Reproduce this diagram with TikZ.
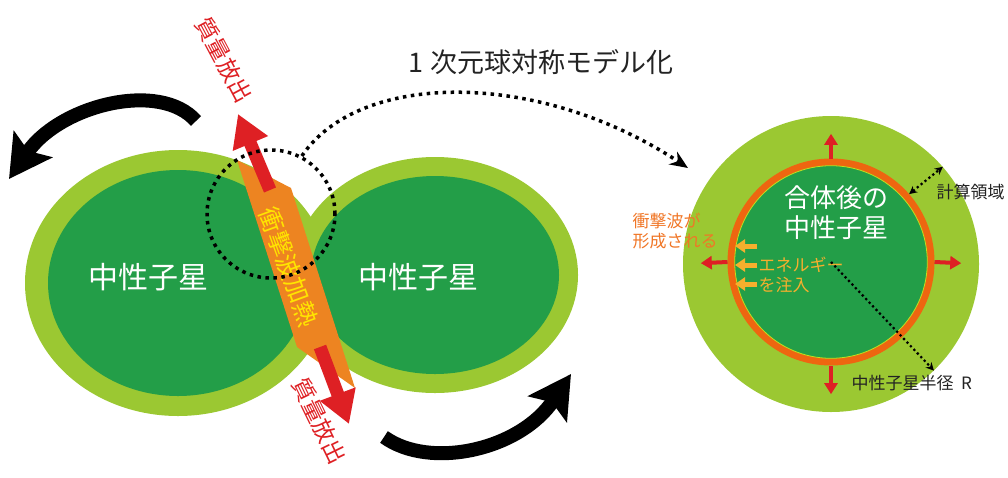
\documentclass[tikz,border=0pt]{standalone}
\usepackage{fontspec}
\setmainfont{Noto Sans CJK JP}
\usetikzlibrary{arrows.meta}

\definecolor{rimgreen}{RGB}{155,200,50}
\definecolor{coregreen}{RGB}{35,158,72}
\definecolor{bandorange}{RGB}{237,132,33}
\definecolor{jetred}{RGB}{222,32,36}
\definecolor{shockorange}{RGB}{238,102,16}
\definecolor{heatyellow}{RGB}{255,228,0}
\definecolor{labelorange}{RGB}{240,118,38}
\definecolor{energyorange}{RGB}{247,175,45}
\definecolor{inkgray}{RGB}{35,35,35}

\newcommand{\fs}[2]{\fontsize{#1}{#2}\selectfont}

\begin{document}
\begin{tikzpicture}[x=1pt,y=-1pt,
    starlabel/.style={text=white,font=\fs{30}{34}},
    spin/.style={line width=14pt,-{Stealth[length=42pt,width=46pt,inset=8pt]}},
    jet/.style={jetred,line width=13pt,-{Triangle[length=32pt,width=36pt]}},
    jetlabel/.style={text=jetred,font=\fs{23}{26}},
    bigdots/.style={line width=3.5pt,dash pattern=on 3.5pt off 4.5pt},
    smalldots/.style={line width=2.2pt,dash pattern=on 2.2pt off 2.8pt},
    ringarrow/.style={jetred,line width=4pt,-{Triangle[length=11pt,width=13pt]},shorten >=18pt},
    inject/.style={energyorange,line width=5pt,-{Triangle[length=10pt,width=13pt]}},
    smalltext/.style={font=\fs{17}{20}}]
  \useasboundingbox (0,0) rectangle (1008,477);

  \fill[rimgreen] (178,283) ellipse [x radius=153pt, y radius=133pt];
  \fill[coregreen] (178,283) ellipse [x radius=130pt, y radius=113pt];
  \fill[rimgreen] (435,275) ellipse [x radius=143pt, y radius=118pt];
  \fill[coregreen] (435,275) ellipse [x radius=124pt, y radius=99pt];
  \node[starlabel] (leftstar) at (148,277) {中性子星};
  \node[starlabel] (rightstar) at (418,277) {中性子星};

  \fill[bandorange] (237,160) -- (291,188) -- (355,388) -- (297,347) -- cycle;
  \node[text=heatyellow,font=\fs{25}{28},rotate=-70] (heating) at (289,267) {衝撃波加熱};

  \coordinate (jetbase1) at (270,190);
  \coordinate (jettip1) at (238,114);
  \coordinate (jetbase2) at (320,347);
  \coordinate (jettip2) at (349,424);
  \draw[jet] (jetbase1) -- (jettip1);
  \draw[jet] (jetbase2) -- (jettip2);
  \node[jetlabel,rotate=-62] (ejectup) at (224,60) {質量放出};
  \node[jetlabel,rotate=-64] (ejectdown) at (319,421) {質量放出};

  \draw[spin] (196,121) .. controls (160,80) and (60,105) .. (9,179);
  \draw[spin] (384,437) .. controls (430,470) and (520,450) .. (571,374);

  \node[circle,draw,bigdots,minimum size=128pt,inner sep=0pt] (merger) at (271,214) {};
  \node[font=\fs{27}{30},text=inkgray] (title) at (541,62) {1 次元球対称モデル化};
  \coordinate (modeltip) at (688,168);
  \draw[bigdots,-{Stealth[length=18pt,width=15pt]}] (merger.62) .. controls (360,70) and (540,70) .. (modeltip);

  \node[circle,fill=rimgreen,minimum size=296pt,inner sep=0pt] (domain) at (831,264) {};
  \node[circle,draw=shockorange,line width=7pt,fill=coregreen,minimum size=200pt,inner sep=0pt] (core) at (831,262) {};
  \draw[rimgreen!60!yellow,line width=0.8pt] (core.center) circle [radius=96.3pt];
  \foreach \side in {north,south,east,west}
    \draw[ringarrow] (core.\side) -- (domain.\side);

  \node[text=white,font=\fs{26}{30},align=center] (merged) at (836,213) {合体後の\\中性子星};
  \node[smalltext,text=labelorange,align=left,anchor=west] (shock) at (629,231) {衝撃波が\\形成される};
  \node[smalltext,text=energyorange,align=left,anchor=west] (energy) at (755,275) {エネルギー\\を注入};
  \foreach \i/\y in {1/246,2/265,3/284}{
    \coordinate (inj\i) at (757,\y);
    \draw[inject] (inj\i) -- ++(-22,0);
  }

  \draw[smalldots,{Stealth[length=8pt,width=8pt]}-{Stealth[length=8pt,width=8pt]}] (core.41) -- (domain.41);
  \draw[smalldots,-{Stealth[length=8pt,width=8pt]}] (core.center) -- (domain.-46);
  \node[smalltext,text=inkgray,anchor=west] (domainlabel) at (933,192) {計算領域};
  \node[smalltext,text=inkgray,anchor=west] (radius) at (848,383) {中性子星半径\hspace{0.45em}R};
\end{tikzpicture}
\end{document}
